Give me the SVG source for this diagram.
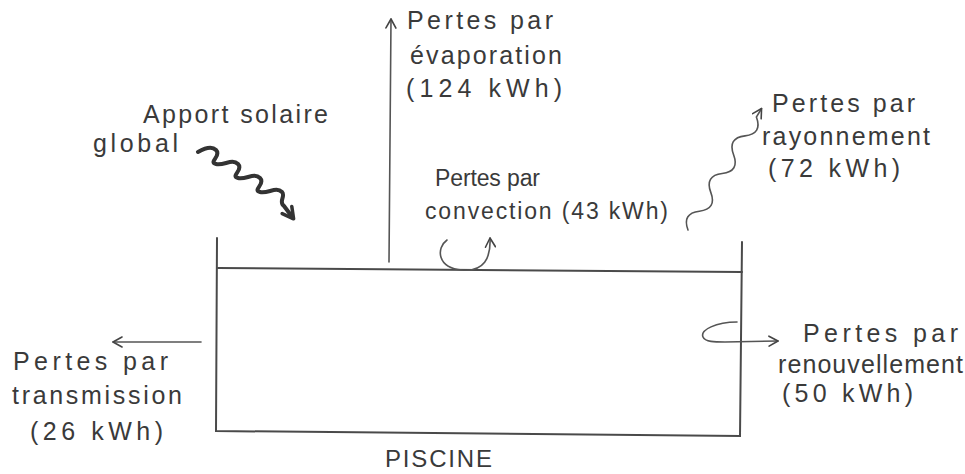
<svg xmlns="http://www.w3.org/2000/svg" width="965" height="474" viewBox="0 0 965 474">
<style>
.t{font-family:"Liberation Sans","DejaVu Sans",sans-serif;font-size:25px;fill:#3a3a3a}
.s{font-size:23px}
.p{font-size:24px}
.ln{stroke:#4a4a4a;stroke-width:2;fill:none;stroke-linecap:round}
.thin{stroke:#555;stroke-width:1.6;fill:none;stroke-linecap:round}
</style>
<defs>
<marker id="ah" markerWidth="12" markerHeight="12" refX="10" refY="6" orient="auto" markerUnits="userSpaceOnUse">
<path d="M1,1 L10,6 L1,11" fill="none" stroke="#444" stroke-width="1.6" stroke-linecap="round" stroke-linejoin="round"/>
</marker>
<marker id="ahb" markerWidth="16" markerHeight="16" refX="12" refY="8" orient="auto" markerUnits="userSpaceOnUse">
<path d="M2,2 L13,8 L2,14" fill="none" stroke="#333" stroke-width="3.5" stroke-linecap="round" stroke-linejoin="round"/>
</marker>
</defs>
<rect width="965" height="474" fill="#ffffff"/>

<g id="piscine">
<path class="ln" d="M217,238 L216,431 L740,436 L742,242"/>
<path class="ln" d="M218,268 L742,272"/>
<text class="t p" x="385" y="467" textLength="107">PISCINE</text>
</g>

<g id="connectors">
<path class="thin" d="M389,262 L391,19" marker-end="url(#ah)"/>
<path d="M198,152 C205,148 212,146 216,150 C222,156 208,162 216,164 C224,166 232,158 238,164 C244,170 230,176 238,178 C246,180 254,172 260,178 C266,184 252,190 260,192 C268,194 276,186 282,192 C286,196 278,202 284,206 L293,218" stroke="#333" stroke-width="4" fill="none" stroke-linecap="round" stroke-linejoin="round" marker-end="url(#ahb)"/>
<g transform="translate(688,230) rotate(-58.8)">
<path class="thin" d="M0,0 q11,-14 22,0 t22,0 t22,0 t22,0 t22,0 t22,0 l10,0" marker-end="url(#ah)"/>
</g>
<path class="thin" d="M447,240 C436,248 437,268 462,270 C484,272 491,258 490,238" marker-end="url(#ah)"/>
<path class="thin" d="M201,342 L113,342" marker-end="url(#ah)"/>
<path class="thin" d="M737,322 C716,322 700,330 703,337 C705,342 715,342 725,342 L778,341" marker-end="url(#ah)"/>
</g>

<g id="apport">
<text class="t" x="143" y="123" textLength="185">Apport solaire</text>
<text class="t" x="93" y="152" textLength="85">global</text>
</g>
<g id="evaporation">
<text class="t" x="407" y="29" textLength="146">Pertes par</text>
<text class="t" x="410" y="64" textLength="152">évaporation</text>
<text class="t" x="406" y="97" textLength="156">(124 kWh)</text>
</g>
<g id="convection">
<text class="t s" x="435" y="186" textLength="105">Pertes par</text>
<text class="t s" x="425" y="219" textLength="243">convection (43 kWh)</text>
</g>
<g id="rayonnement">
<text class="t" x="772" y="112" textLength="143">Pertes par</text>
<text class="t" x="762" y="145" textLength="168">rayonnement</text>
<text class="t" x="768" y="177" textLength="132">(72 kWh)</text>
</g>
<g id="transmission">
<text class="t" x="13" y="370" textLength="155">Pertes par</text>
<text class="t" x="12" y="404" textLength="170">transmission</text>
<text class="t" x="30" y="440" textLength="133">(26 kWh)</text>
</g>
<g id="renouvellement">
<text class="t" x="803" y="342" textLength="155">Pertes par</text>
<text class="t" x="778" y="373" textLength="185">renouvellement</text>
<text class="t" x="782" y="402" textLength="131">(50 kWh)</text>
</g>
</svg>
